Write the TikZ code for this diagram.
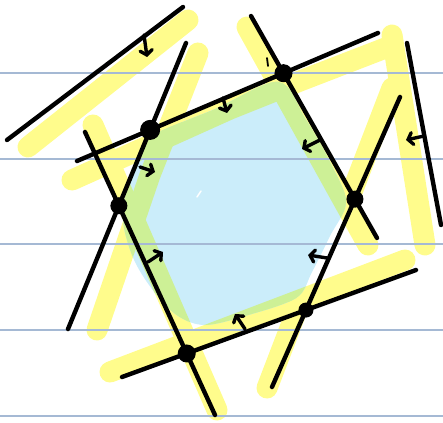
\documentclass[tikz,border=0pt]{standalone}
\usetikzlibrary{arrows.meta}
\definecolor{rulecol}{RGB}{165,185,212}
\definecolor{skyfill}{RGB}{203,237,250}
\definecolor{hl}{RGB}{255,252,140}
\definecolor{hlgreen}{RGB}{205,240,150}
\begin{document}
\begin{tikzpicture}[x=1pt,y=-1pt,
  pen/.style={line width=4.4pt, line cap=round, draw=black},
  band/.style={line width=21pt, line cap=round, line join=round},
  rulestyle/.style={line width=1.2pt, draw=rulecol},
  harrow/.style={line width=3.4pt, line cap=round, -{Straight Barb[length=4.5pt,width=12pt,line cap=round]}},
  vdot/.style={fill=black, draw=black, line width=1pt}]
\useasboundingbox (0,0) rectangle (443,422);
% end points of the lines
\coordinate (l1a) at (7,140);   \coordinate (l1b) at (183,7);
\coordinate (l2a) at (77,161);  \coordinate (l2b) at (378,33);
\coordinate (l3a) at (186,43);  \coordinate (l3b) at (68,329);
\coordinate (l4a) at (85,132);  \coordinate (l4b) at (215,415);
\coordinate (l5a) at (122,377); \coordinate (l5b) at (416,270);
\coordinate (l6a) at (272,387); \coordinate (l6b) at (400,97);
\coordinate (l7a) at (251,16);  \coordinate (l7b) at (377,238);
\coordinate (l8a) at (407,43);  \coordinate (l8b) at (441,225);
% vertices
\coordinate (vA) at (intersection of l2a--l2b and l3a--l3b);
\coordinate (vB) at (intersection of l2a--l2b and l7a--l7b);
\coordinate (vC) at (intersection of l7a--l7b and l6a--l6b);
\coordinate (vD) at (intersection of l6a--l6b and l5a--l5b);
\coordinate (vE) at (intersection of l5a--l5b and l4a--l4b);
\coordinate (vF) at (intersection of l4a--l4b and l3a--l3b);
% highlighter bands (drawn once in yellow, once in green inside the region)
\def\bands{%
  \draw[band] (28,147) -- (188,20);
  \draw[band] (198,53) -- (150,175) -- (97,330);
  \draw[band] (72,180) -- (150,145) -- (230,109) -- (300,81) -- (388,47);
  \draw[band] (93,125) -- (217,410);
  \draw[band] (247,27) -- (368,245);
  \draw[band] (392,88) -- (352,192);
  \draw[band] (300,302) -- (267,388);
  \draw[band] (110,372) -- (405,260);
  \draw[band] (392,35) -- (425,245);}
\def\region{plot[smooth cycle, tension=0.55] coordinates {
  (150,137) (215,109) (278,82) (305,118) (330,162) (346,202) (330,236)
  (312,272) (296,298) (245,316) (205,325) (178,316) (155,293) (135,262)
  (124,228) (124,200) (138,162)}}
\begin{scope}[draw=hl]\bands\end{scope}
\fill[skyfill] \region;
\begin{scope}
  \clip \region;
  \begin{scope}[draw=hlgreen]\bands\end{scope}
\end{scope}
% ruled paper lines
\foreach \yy [count=\i] in {73,159,244,330,416}{
  \coordinate (ra\i) at (0,\yy); \coordinate (rb\i) at (443,\yy);
  \draw[rulestyle] (ra\i) -- (rb\i);}
% white gleam
\coordinate (g1) at (197,197); \coordinate (g2) at (201,191);
\draw[white, line width=1.5pt, line cap=round] (g1) -- (g2);
% lines
\draw[pen] (l1a) -- (l1b);
\draw[pen] (l2a) -- (l2b);
\draw[pen] (l3a) -- (l3b);
\draw[pen] (l4a) -- (l4b);
\draw[pen] (l5a) -- (l5b);
\draw[pen] (l6a) -- (l6b);
\draw[pen] (l7a) -- (l7b);
\draw[pen] (l8a) -- (l8b);
% direction arrows
\coordinate (a1s) at (144,35);  \coordinate (a1e) at (147,57);
\coordinate (a2s) at (223,98);  \coordinate (a2e) at (227,113);
\coordinate (a3s) at (140,167); \coordinate (a3e) at (155,172);
\coordinate (a4s) at (148,262); \coordinate (a4e) at (163,252);
\coordinate (a5s) at (245,329); \coordinate (a5e) at (235,314);
\coordinate (a6s) at (327,258); \coordinate (a6e) at (308,255);
\coordinate (a7s) at (320,140); \coordinate (a7e) at (302,149);
\coordinate (a8s) at (424,136); \coordinate (a8e) at (406,140);
\foreach \k in {1,...,8}{\draw[harrow] (a\k s) -- (a\k e);}
% small ticks
\coordinate (t1) at (267,58); \coordinate (t2) at (268,66);
\draw[line width=1.8pt, line cap=round] (t1) -- (t2);
% vertex dots
\filldraw[vdot] (vA) circle (9.5pt);
\filldraw[vdot] (vB) circle (8.5pt);
\filldraw[vdot] (vC) circle (8pt);
\filldraw[vdot] (vD) circle (7pt);
\filldraw[vdot] (vE) circle (8.5pt);
\filldraw[vdot] (vF) circle (8pt);
\end{tikzpicture}
\end{document}
